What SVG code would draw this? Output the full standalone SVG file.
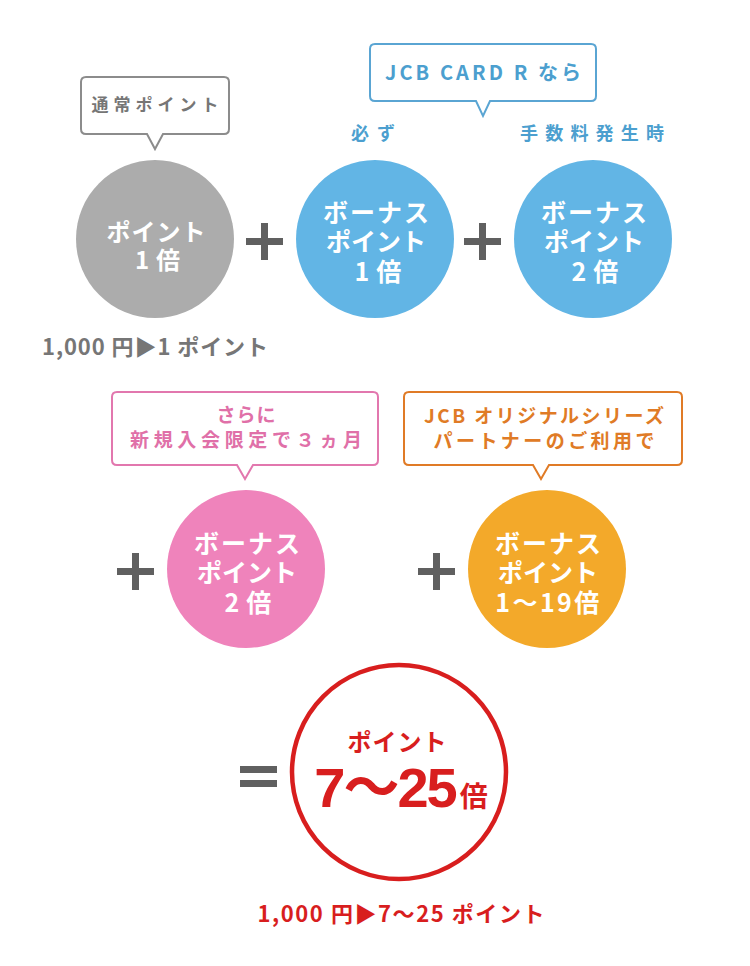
<svg xmlns="http://www.w3.org/2000/svg" width="750" height="966" viewBox="0 0 750 966">
<style>
text{font-family:"Noto Sans CJK JP","Noto Sans",sans-serif;font-weight:bold;text-anchor:middle}
.w{fill:#ffffff;font-size:25px}
.op{fill:#606060}
.bub{fill:#ffffff;stroke-width:2}
</style>
<rect width="750" height="966" fill="#ffffff"/>
<g id="operators">
<rect class="op" x="246" y="238" width="37" height="7"/><rect class="op" x="261" y="223" width="7" height="37"/>
<rect class="op" x="464" y="238" width="37" height="7"/><rect class="op" x="479" y="223" width="7" height="37"/>
<rect class="op" x="117" y="568" width="37" height="7"/><rect class="op" x="132" y="553" width="7" height="37"/>
<rect class="op" x="418" y="568" width="37" height="7"/><rect class="op" x="433" y="553" width="7" height="37"/>
<rect class="op" x="240" y="766" width="37" height="7"/><rect class="op" x="240" y="780" width="37" height="7"/>
</g>
<g id="normal-point">
<path class="bub" stroke="#8c8c8c" d="M86,77 H224 Q229,77 229,82 V129 Q229,134 224,134 H163 L155,149 L147,134 H86 Q81,134 81,129 V82 Q81,77 86,77 Z"/>
<text x="155" y="111" fill="#767676" font-size="17" textLength="127" lengthAdjust="spacing">通常ポイント</text>
<circle cx="155" cy="239" r="79" fill="#acacac"/>
<text class="w" style="font-size:24px"><tspan x="156.5" y="241" letter-spacing="1">ポイント</tspan><tspan x="161" y="269" letter-spacing="7">1倍</tspan></text>
<text x="155" y="355" fill="#767676" font-size="22" textLength="226" lengthAdjust="spacing">1,000 円▶1 ポイント</text>
</g>
<g id="jcb-card-r">
<path class="bub" stroke="#5aa5d3" d="M375,44 H591 Q596,44 596,49 V96 Q596,101 591,101 H490 L483,116 L476,101 H375 Q370,101 370,96 V49 Q370,44 375,44 Z"/>
<text x="483" y="80" fill="#4c9fcf" font-size="20" textLength="196" lengthAdjust="spacing">JCB CARD R なら</text>
</g>
<g id="bonus-always">
<text x="373" y="140" fill="#4c9fcf" font-size="18" textLength="44" lengthAdjust="spacing">必ず</text>
<circle cx="375" cy="239" r="79" fill="#62b5e5"/>
<text class="w"><tspan x="377" y="222" letter-spacing="2">ボーナス</tspan><tspan x="376" y="251">ポイント</tspan><tspan x="381.5" y="281" letter-spacing="7">1倍</tspan></text>
</g>
<g id="bonus-fee">
<text x="592" y="140" fill="#4c9fcf" font-size="18" textLength="144" lengthAdjust="spacing">手数料発生時</text>
<circle cx="593" cy="239" r="79" fill="#62b5e5"/>
<text class="w"><tspan x="595" y="222" letter-spacing="2">ボーナス</tspan><tspan x="594" y="251">ポイント</tspan><tspan x="598.5" y="281" letter-spacing="7">2倍</tspan></text>
</g>
<g id="bonus-new">
<path class="bub" stroke="#e277ae" d="M117,392 H373 Q378,392 378,397 V460 Q378,465 373,465 H253 L245,479 L237,465 H117 Q112,465 112,460 V397 Q112,392 117,392 Z"/>
<text fill="#e070a8" font-size="19"><tspan x="246" y="422" textLength="59" lengthAdjust="spacing">さらに</tspan><tspan x="246" y="447" textLength="232" lengthAdjust="spacing">新規入会限定で３ヵ月</tspan></text>
<circle cx="246" cy="569" r="79" fill="#ef83bb"/>
<text class="w"><tspan x="248" y="553" letter-spacing="2">ボーナス</tspan><tspan x="247" y="582">ポイント</tspan><tspan x="251.5" y="612" letter-spacing="7">2倍</tspan></text>
</g>
<g id="bonus-partner">
<path class="bub" stroke="#e07b26" d="M409,392 H677 Q682,392 682,397 V460 Q682,465 677,465 H549 L541,479 L533,465 H409 Q404,465 404,460 V397 Q404,392 409,392 Z"/>
<text fill="#e07b26" font-size="19"><tspan x="544" y="423" textLength="240" lengthAdjust="spacing">JCB オリジナルシリーズ</tspan><tspan x="544" y="448" textLength="221" lengthAdjust="spacing">パートナーのご利用で</tspan></text>
<circle cx="547" cy="569" r="79" fill="#f3a92a"/>
<text class="w"><tspan x="549" y="553" letter-spacing="2">ボーナス</tspan><tspan x="548" y="582">ポイント</tspan><tspan x="548.5" y="612" letter-spacing="2.4">1～19倍</tspan></text>
</g>
<g id="total">
<circle cx="399" cy="772" r="107" fill="#ffffff" stroke="#d81e1e" stroke-width="4.5"/>
<text fill="#d81e1e" font-size="24"><tspan x="397.5" y="751" letter-spacing="1">ポイント</tspan><tspan x="401" y="807" font-size="56" letter-spacing="-2" style="font-family:'Liberation Sans','Noto Sans CJK JP',sans-serif">7～25</tspan><tspan font-size="28" dx="4" letter-spacing="0">倍</tspan></text>
<text x="401" y="922" fill="#d81e1e" font-size="22" textLength="287" lengthAdjust="spacing">1,000 円▶7～25 ポイント</text>
</g>
</svg>
